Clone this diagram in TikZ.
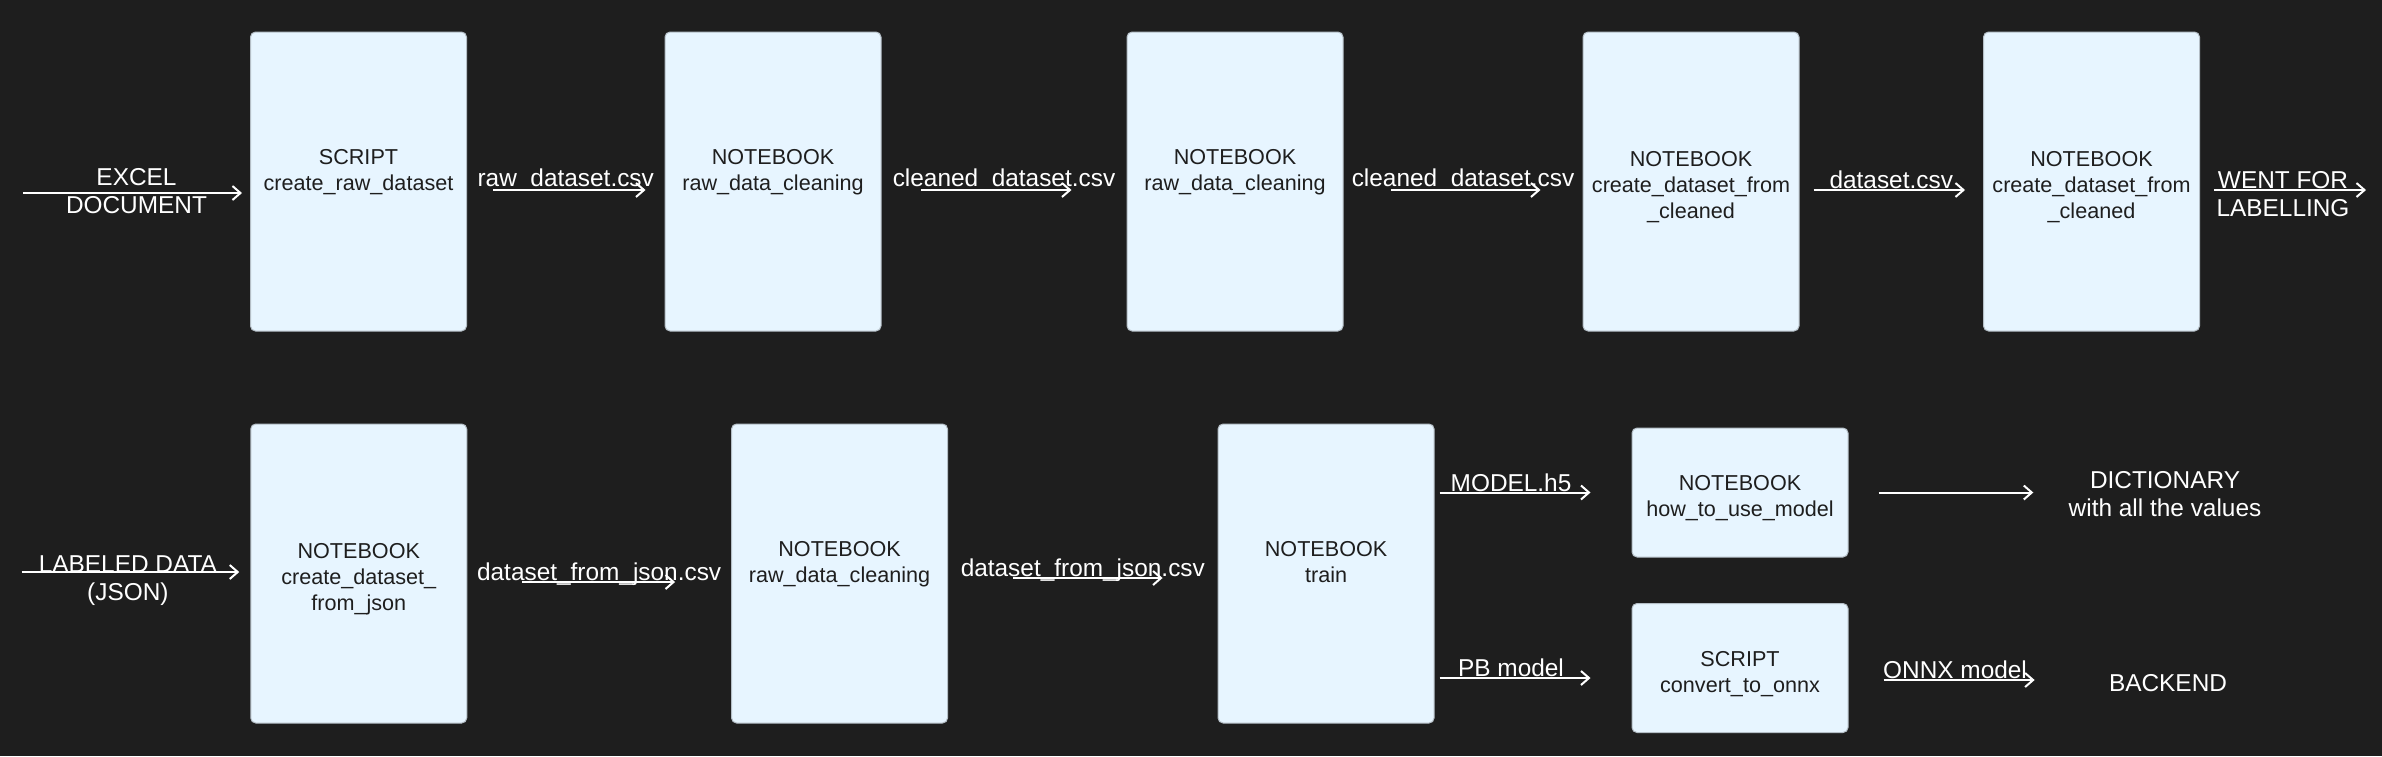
\documentclass[tikz,border=0pt]{standalone}
\usepackage{fontspec}
\setmainfont{Liberation Sans}
\usetikzlibrary{positioning,calc,arrows.meta}
\definecolor{canvas}{HTML}{1E1E1E}
\definecolor{boxfill}{HTML}{E7F5FF}
\definecolor{boxedge}{HTML}{B4BEC6}
\definecolor{ink}{HTML}{1E1E1E}
\newcommand\jobfont{\fontsize{10.8}{13}\selectfont}
\newcommand\flowfont{\fontsize{12.2}{14}\selectfont}
\newcommand\jobtop{\rule{0pt}{13.2pt}}

\begin{document}
\begin{tikzpicture}[
        x=0.5pt,y=-0.5pt,on grid,
        jobbox/.style={
          draw=boxedge,line width=0.5pt,fill=boxfill,rounded corners=2.5pt,
          minimum width=108pt,minimum height=149.5pt,inner sep=0pt,
          align=center,text=ink,font=\jobfont},
        jobsmall/.style={jobbox,minimum height=64.5pt},
        flowtag/.style={text=white,font=\flowfont,inner sep=0pt,align=center},
        every edge/.append style={->,>={Straight Barb[length=4pt,width=7pt]},
          draw=white,line width=1pt}]
      \fill[canvas] (0,0) rectangle (2382,756);
      % first row
      \node[jobbox] (rawscript) at (358.5,181.5) {\jobtop SCRIPT\\create\_raw\_dataset\\\strut};
      \node[jobbox, right=207.25pt of rawscript] (cleanA) {\jobtop NOTEBOOK\\raw\_data\_cleaning\\\strut};
      \node[jobbox, right=231pt of cleanA] (cleanB) {\jobtop NOTEBOOK\\raw\_data\_cleaning\\\strut};
      \node[jobbox, right=228pt of cleanB] (fromcleanA) {\jobtop NOTEBOOK\\create\_dataset\_from\\\_cleaned};
      \node[jobbox, right=200.25pt of fromcleanA] (fromcleanB) {\jobtop NOTEBOOK\\create\_dataset\_from\\\_cleaned};
      \coordinate (excel) at (23,193);
      \coordinate (labelling) at (2366,190);
      \path (excel) edge[shorten >=4pt] node[flowtag, yshift=1pt] {EXCEL\\DOCUMENT} (excel -| rawscript.west);
      \path ($(rawscript.east)+(0,8.5)$) edge[shorten <=13pt, shorten >=9.5pt]
        node[flowtag, yshift=5pt] {raw\_dataset.csv} ($(cleanA.west)+(0,8.5)$);
      \path ($(cleanA.east)+(0,8.5)$) edge[shorten <=19.5pt, shorten >=27.5pt]
        node[flowtag, yshift=5pt] {cleaned\_dataset.csv} ($(cleanB.west)+(0,8.5)$);
      \path ($(cleanB.east)+(0,8.5)$) edge[shorten <=23.5pt, shorten >=21pt]
        node[flowtag, yshift=5pt] {cleaned\_dataset.csv} ($(fromcleanA.west)+(0,8.5)$);
      \path ($(fromcleanA.east)+(0,8.5)$) edge[shorten <=7pt, shorten >=9pt]
        node[flowtag, yshift=5pt] {dataset.csv} ($(fromcleanB.west)+(0,8.5)$);
      \path ($(fromcleanB.east)+(0,8.5)$) edge[shorten <=7pt]
        node[flowtag, yshift=-2pt] {WENT FOR\\LABELLING} (labelling);
      % second row
      \node[jobbox] (fromjson) at (358.75,573.5) {\jobtop NOTEBOOK\\create\_dataset\_\\from\_json};
      \node[jobbox, right=240.4pt of fromjson] (cleanC) {\jobtop NOTEBOOK\\raw\_data\_cleaning\\\strut};
      \node[jobbox, right=243.25pt of cleanC] (train) {\jobtop NOTEBOOK\\train\\\strut};
      \node[jobsmall] (howto) at (1740,492.5) {\jobtop NOTEBOOK\\how\_to\_use\_model};
      \node[jobsmall, below=87.75pt of howto] (onnx) {\jobtop SCRIPT\\convert\_to\_onnx};
      \node[flowtag] (dict) at (2165,494.5) {DICTIONARY\\with all the values};
      \node[flowtag] (backend) at (2168,683) {BACKEND};
      \coordinate (labeled) at (21.5,572);
      \path (labeled) edge[shorten >=5.5pt] node[flowtag, xshift=-4pt, yshift=-4.5pt] {LABELED DATA\\(JSON)} (labeled -| fromjson.west);
      \path ($(fromjson.east)+(0,8.5)$) edge[shorten <=27.5pt, shorten >=28pt]
        node[flowtag, yshift=4pt] {dataset\_from\_json.csv} ($(cleanC.west)+(0,8.5)$);
      \path ($(cleanC.east)+(0,4.5)$) edge[shorten <=32.5pt, shorten >=27.5pt]
        node[flowtag, yshift=4pt] {dataset\_from\_json.csv} ($(train.west)+(0,4.5)$);
      \path (train.east |- howto.west) edge[shorten <=2.5pt, shorten >=20.5pt]
        node[flowtag, xshift=-11pt, yshift=5pt] {MODEL.h5} (howto.west);
      \path ($(train.east |- onnx.west)+(0,10)$) edge[shorten <=2.5pt, shorten >=20.5pt]
        node[flowtag, xshift=-11pt, yshift=5pt] {PB model} ($(onnx.west)+(0,10)$);
      \path (howto.east) edge[shorten <=15pt, shorten >=17.5pt] (dict.west |- howto.east);
      \path ($(onnx.east)+(0,12)$) edge[shorten <=17.5pt, shorten >=37pt]
        node[flowtag, xshift=-11.75pt, yshift=5pt] {ONNX model} ($(backend.west)+(0,-3)$);
    \end{tikzpicture}
\end{document}
